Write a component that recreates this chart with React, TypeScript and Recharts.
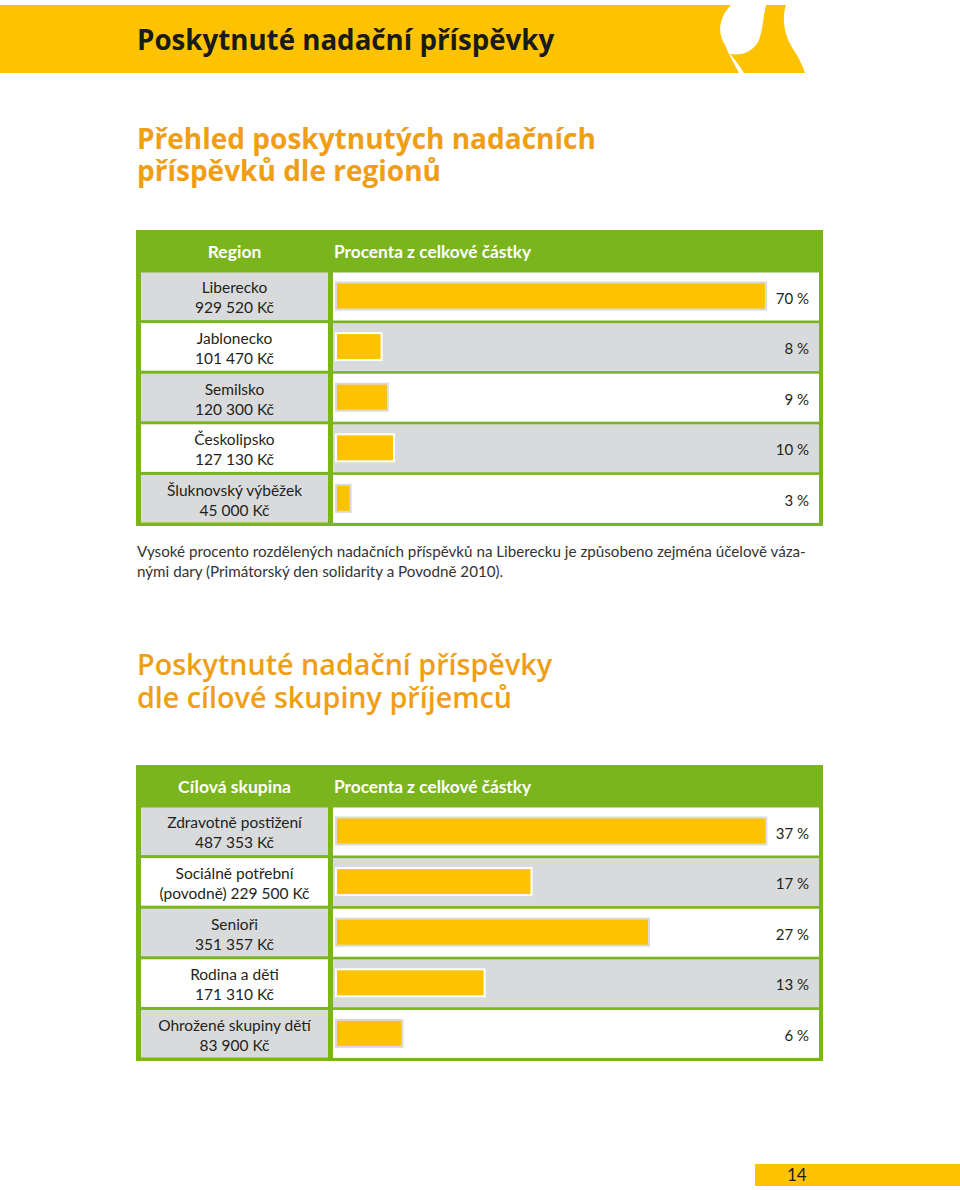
import React from 'react';
import { BarChart, Bar, XAxis, YAxis, LabelList } from 'recharts';

const regionNames = ['Liberecko', 'Jablonecko', 'Semilsko', 'Českolipsko', 'Šluknovský výběžek'];
const regionAmounts = ['929 520 Kč', '101 470 Kč', '120 300 Kč', '127 130 Kč', '45 000 Kč'];
const regionPercents = [70, 8, 9, 10, 3];

const groupNames = ['Zdravotně postižení', 'Sociálně potřební', 'Senioři', 'Rodina a děti', 'Ohrožené skupiny dětí'];
const groupAmounts = ['487 353 Kč', '(povodně) 229 500 Kč', '351 357 Kč', '171 310 Kč', '83 900 Kč'];
const groupPercents = [37, 17, 27, 13, 6];

const YELLOW = '#fdc300';
const GREEN = '#7ab51d';
const GREY = '#d9dadb';
const ORANGE = '#f09e16';
const TEXT = '#231f20';
const FONT = 'Lato, "Open Sans", sans-serif';
const HEAD_FONT = '"Open Sans", Lato, sans-serif';

const CHART_W = 678;
const CHART_H = 253;
const AXIS_W = 192;
const ROWS = 5;
const BAND = CHART_H / ROWS;

type TableProps = {
  top: number;
  firstHeader: string;
  names: string[];
  amounts: string[];
  percents: number[];
  max: number;
};

const PercentTable = ({ top, firstHeader, names, amounts, percents, max }: TableProps) => {
  const data = names.map((name, i) => ({ name, value: percents[i] }));

  const renderTick = (props: any) => {
    const { y, payload } = props;
    const i = payload.index ?? names.indexOf(payload.value);
    return (
      <g>
        <rect x={0} y={y - BAND / 2 + 1.5} width={187} height={BAND - 3} fill={i % 2 === 0 ? GREY : '#fff'} />
        <text x={93.5} y={y - 9} textAnchor="middle" dominantBaseline="central" fontFamily={FONT} fontSize={15.5} fill={TEXT}>
          {payload.value}
        </text>
        <text x={93.5} y={y + 11} textAnchor="middle" dominantBaseline="central" fontFamily={FONT} fontSize={15.5} fill={TEXT}>
          {amounts[i]}
        </text>
      </g>
    );
  };

  const renderBackground = (props: any) => {
    const { x, y, width, height, index } = props;
    return <rect x={x} y={y + 1.5} width={width} height={height - 3} fill={index % 2 === 0 ? '#fff' : GREY} />;
  };

  const renderBar = (props: any) => {
    const { x, y, width, height, index } = props;
    const cy = y + height / 2 - 0.5;
    return (
      <g>
        <rect x={x + 2} y={cy - 14.5} width={Math.max(width - 2, 0)} height={29} fill={index % 2 === 0 ? GREY : '#fff'} />
        <rect x={x + 4} y={cy - 12.5} width={Math.max(width - 6, 0)} height={25} fill={YELLOW} />
      </g>
    );
  };

  const renderLabel = (props: any) => {
    const { y, height, value } = props;
    return (
      <text x={CHART_W - 10} y={y + height / 2 + 1} textAnchor="end" dominantBaseline="central" fontFamily={FONT} fontSize={15} fill={TEXT}>
        {value} %
      </text>
    );
  };

  return (
    <div style={{ position: 'absolute', left: 136, top, width: 687, height: 296, background: GREEN }}>
      <div style={{ position: 'absolute', left: 5, top: 0, width: 187, height: 42, display: 'flex', alignItems: 'center', justifyContent: 'center', color: '#fff', fontWeight: 'bold', fontSize: 17.5, fontFamily: FONT }}>
        {firstHeader}
      </div>
      <div style={{ position: 'absolute', left: 198, top: 0, height: 42, display: 'flex', alignItems: 'center', color: '#fff', fontWeight: 'bold', fontSize: 17.3, fontFamily: FONT, whiteSpace: 'nowrap' }}>
        Procenta z celkové částky
      </div>
      <div style={{ position: 'absolute', left: 5, top: 41 }}>
        <BarChart width={CHART_W} height={CHART_H} data={data} layout="vertical" barCategoryGap={0} margin={{ top: 0, right: 0, bottom: 0, left: 0 }}>
          <XAxis type="number" domain={[0, max]} hide />
          <YAxis type="category" dataKey="name" width={AXIS_W} axisLine={false} tickLine={false} interval={0} tick={renderTick} />
          <Bar dataKey="value" isAnimationActive={false} background={renderBackground} shape={renderBar}>
            <LabelList dataKey="value" content={renderLabel} />
          </Bar>
        </BarChart>
      </div>
    </div>
  );
};

export default function App() {
  return (
    <div style={{ position: 'absolute', left: 0, top: 0, width: 960, height: 1190, background: '#fff', overflow: 'hidden', fontFamily: FONT }}>
      <svg width={960} height={80} style={{ position: 'absolute', left: 0, top: 0 }}>
        <path d="M0,5 H731 C719,17 717,33 725,45 C729,54 734,64 739,73 H0 Z" fill={YELLOW} />
        <path d="M766,5 H786 C781,20 785,38 795,52 C800,60 803,67 805,73 H744 C740,66 735,60 730,54 C742,56 752,52 758,42 C763,32 763,16 766,5 Z" fill={YELLOW} />
      </svg>
      <div style={{ position: 'absolute', left: 137, top: 24.3, fontFamily: HEAD_FONT, fontSize: 27.7, lineHeight: '30px', fontWeight: 'bold', color: '#1a1a1a', whiteSpace: 'nowrap' }}>
        Poskytnuté nadační příspěvky
      </div>

      <div style={{ position: 'absolute', left: 137, top: 123.3, fontFamily: HEAD_FONT, fontSize: 28, lineHeight: '31.7px', fontWeight: 'bold', color: ORANGE, whiteSpace: 'nowrap' }}>
        Přehled poskytnutých nadačních
        <br />
        příspěvků dle regionů
      </div>

      <PercentTable top={230} firstHeader="Region" names={regionNames} amounts={regionAmounts} percents={regionPercents} max={78.4} />

      <div style={{ position: 'absolute', left: 137, top: 541, fontSize: 15.2, lineHeight: '20px', color: '#333', whiteSpace: 'nowrap' }}>
        Vysoké procento rozdělených nadačních příspěvků na Liberecku je způsobeno zejména účelově váza-
        <br />
        nými dary (Primátorský den solidarity a Povodně 2010).
      </div>

      <div style={{ position: 'absolute', left: 137, top: 648.4, fontFamily: HEAD_FONT, fontSize: 28.7, lineHeight: '32.3px', fontWeight: 600, color: ORANGE, whiteSpace: 'nowrap' }}>
        Poskytnuté nadační příspěvky
        <br />
        dle cílové skupiny příjemců
      </div>

      <PercentTable top={765} firstHeader="Cílová skupina" names={groupNames} amounts={groupAmounts} percents={groupPercents} max={41.4} />

      <div style={{ position: 'absolute', left: 755, top: 1164, width: 205, height: 22, background: YELLOW }}>
        <div style={{ position: 'absolute', left: 32, top: 0, lineHeight: '22px', fontSize: 17, color: TEXT }}>14</div>
      </div>
    </div>
  );
}
